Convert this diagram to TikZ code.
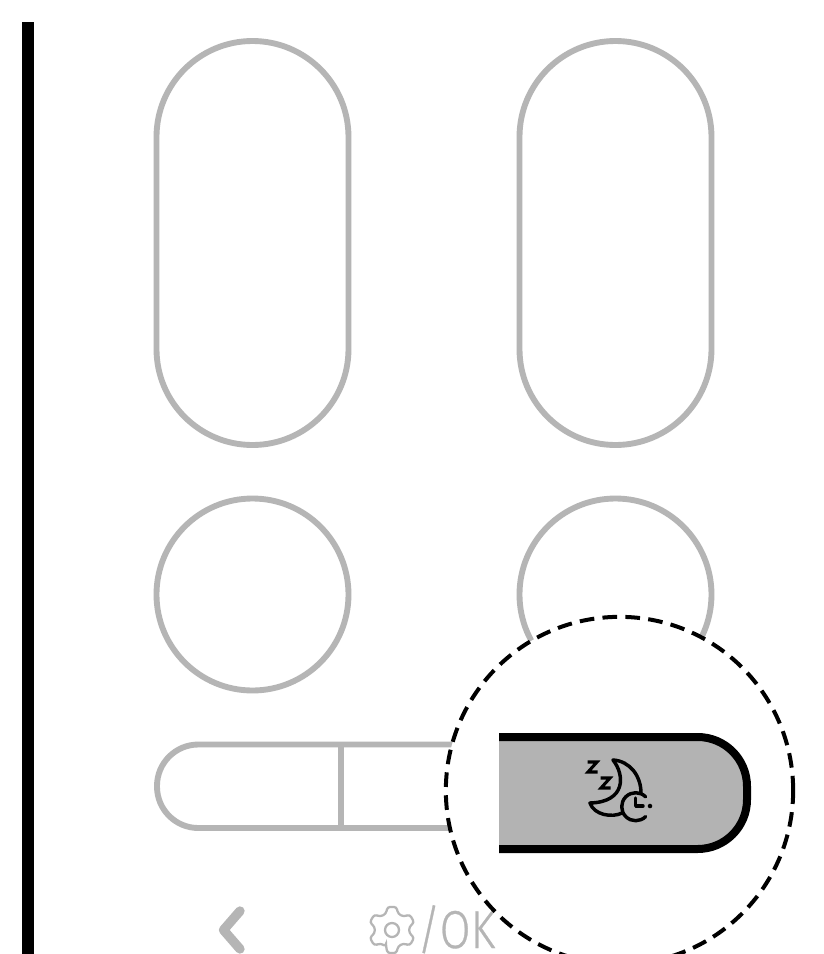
\documentclass[tikz,border=0pt]{standalone}
\usepackage{xcolor}
\usepackage{fontspec}
\setmainfont{Fira Sans}
\newfontfamily\okfont[FakeBold=0.6]{Fira Sans Light}
\usepackage{tikz}
\usetikzlibrary{positioning, calc}
\definecolor{outline}{HTML}{B5B5B5}
\definecolor{keyfill}{HTML}{B3B3B3}

\begin{document}
\begin{tikzpicture}[
    x=0.75pt, y=-0.75pt,
    pill/.style={rectangle, rounded corners=72pt, draw=outline, line width=4.4pt,
                 minimum width=144pt, minimum height=303pt, inner sep=0pt},
    round key/.style={circle, draw=outline, line width=4.4pt, minimum size=144pt, inner sep=0pt},
    bar/.style={draw=outline, line width=4.4pt},
    lens/.style={circle, draw=black, fill=white, line width=3pt, minimum size=260.5pt,
                 inner sep=0pt, dash pattern=on 11pt off 6.2pt},
    icon/.style={draw=black, line width=2.6pt, line cap=round, line join=round}
]
\clip (0,0) rectangle (824,954);
\fill[white] (0,0) rectangle (824,954);

\fill[black] (22,22) rectangle (34,954);

\node[pill] (upleft) at (252.5,243) {};
\node[pill] (upright) at (615.5,243) {};
\node[round key] (roundleft) at (252.5,594.5) {};
\node[round key] (roundright) at (615.5,594.5) {};

% bottom key, its right end hides under the lens
\draw[bar, rounded corners=31pt] (480,744.5) -- (157,744.5) -- (157,828) -- (480,828);
\draw[bar] (341,744.5) -- (341,828);

% back and settings
\draw[outline, line width=7pt, line cap=round, line join=round] (240,911) -- (223.5,930) -- (240,949);
\begin{scope}[shift={(392,930)}]
\draw[outline, line width=1.7pt, rounded corners=2pt]
    (110:17.5) \foreach \a in {90,30,-30,-90,-150,150} {
        -- ({\a+20}:17.5) -- ({\a+11}:23.5) -- ({\a-11}:23.5) -- ({\a-20}:17.5)
    } -- cycle;
\node[circle, draw=outline, line width=1.7pt, minimum size=10.5pt, inner sep=0pt] (gearhole) at (0,0) {};
\end{scope}
\node[font=\okfont\fontsize{40pt}{40pt}\selectfont, text=outline, inner sep=0pt, anchor=base west, xscale=0.84] (oktext) at (417,948) {/OK};

\node[lens] (zoomlens) at (619.5,790.5) {};

% enlarged key
\fill[keyfill, rounded corners=37pt] (499,737) -- (747,737) -- (747,849) -- (499,849) -- cycle;
\fill[keyfill] (499,737) rectangle (560,849);
\draw[black, line width=6pt, rounded corners=37pt] (499,737) -- (747,737) -- (747,849) -- (499,849);

% sleep timer icon
\draw[icon] (613,760) .. controls (630,761) and (641,776) .. (641,793);
\draw[icon] (613,760) .. controls (625,775) and (626,802) .. (590,803)
    .. controls (594,815) and (612,818) .. (622,813);
\draw[icon] (645.6,816.6) arc (45:315:14);
\draw[icon] (635.7,798) -- (635.7,806) -- (643,806);
\fill[black] (650,806) circle (1.7pt);
\draw[icon, line width=2.3pt, line cap=butt, line join=miter] (587.5,762) -- (597,762) -- (588,772) -- (597.5,772);
\draw[icon, line width=2.3pt, line cap=butt, line join=miter] (600.5,778) -- (610,778) -- (601,788) -- (610.5,788);
\end{tikzpicture}
\end{document}
